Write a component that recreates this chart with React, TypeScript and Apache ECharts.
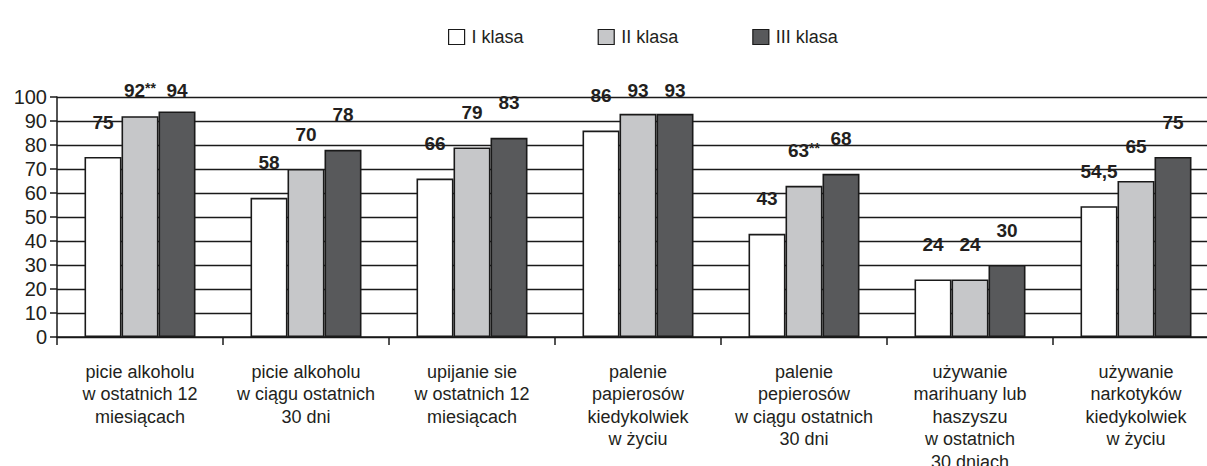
import React, { useEffect, useRef } from "react";
import * as echarts from "echarts";

const categories = [
  "picie alkoholu\nw ostatnich 12\nmiesiącach",
  "picie alkoholu\nw ciągu ostatnich\n30 dni",
  "upijanie sie\nw ostatnich 12\nmiesiącach",
  "palenie\npapierosów\nkiedykolwiek\nw życiu",
  "palenie\npepierosów\nw ciągu ostatnich\n30 dni",
  "używanie\nmarihuany lub\nhaszyszu\nw ostatnich\n30 dniach",
  "używanie\nnarkotyków\nkiedykolwiek\nw życiu",
];
const seriesNames = ["I klasa", "II klasa", "III klasa"];
const classI = [75, 58, 66, 86, 43, 24, 54.5];
const classII = [92, 70, 79, 93, 63, 24, 65];
const classIII = [94, 78, 83, 93, 68, 30, 75];
const marksI = ["", "", "", "", "", "", ""];
const marksII = ["**", "", "", "", "**", "", ""];
const marksIII = ["", "", "", "", "", "", ""];
const yTicks = [0, 10, 20, 30, 40, 50, 60, 70, 80, 90, 100];

const FONT = "'Liberation Sans', Arial, Helvetica, sans-serif";
const colors = ["#ffffff", "#c6c7c9", "#58595b"];

export default function App() {
  const ref = useRef<HTMLDivElement>(null);
  useEffect(() => {
    if (!ref.current) return;
    const chart = echarts.init(ref.current, undefined, { renderer: "svg" });
    const pxPerUnit = 240 / 100;
    const buildSeries = (name: string, vals: number[], marks: string[], color: string) => ({
      name,
      type: "bar",
      barWidth: 37,
      barGap: "0%",
      itemStyle: { color, borderColor: "#1a1a1a", borderWidth: 1.6 },
      data: vals.map((v, i) => ({
        value: v,
        label: {
          show: true,
          position: "top",
          distance: 25 - Math.max(0, (v - 88) * pxPerUnit),
          formatter: () =>
            `{v|${String(v).replace(".", ",")}}` + (marks[i] ? `{s|${marks[i]}}` : ""),
          rich: {
            v: { fontFamily: FONT, fontSize: 19, fontWeight: "bold", color: "#231f20", lineHeight: 20 },
            s: { fontFamily: FONT, fontSize: 14, fontWeight: "bold", color: "#231f20", lineHeight: 20, verticalAlign: "top", padding: [0, 0, 7, 0] },
          },
        },
      })),
    });
    chart.setOption({
      animation: false,
      backgroundColor: "#ffffff",
      legend: {
        left: 448,
        top: 28,
        padding: 0,
        itemWidth: 16,
        itemHeight: 15,
        itemGap: 74,
        icon: "rect",
        itemStyle: { borderColor: "#1a1a1a", borderWidth: 1.2 },
        textStyle: { fontFamily: FONT, fontSize: 18, color: "#231f20", padding: [0, 0, 0, 2] },
        data: seriesNames,
      },
      grid: { left: 57, top: 97, width: 1162, height: 240, containLabel: false, outerBoundsMode: "none" },
      xAxis: {
        type: "category",
        data: categories,
        axisLine: { lineStyle: { color: "#1a1a1a", width: 1.5 } },
        axisTick: { show: true, length: 8, lineStyle: { color: "#1a1a1a", width: 1.5 } },
        axisLabel: {
          interval: 0,
          margin: 23.5,
          fontFamily: FONT,
          fontSize: 18,
          lineHeight: 22.5,
          color: "#231f20",
          align: "center",
          verticalAlign: "top",
          hideOverlap: false,
        },
      },
      yAxis: {
        type: "value",
        min: yTicks[0],
        max: yTicks[yTicks.length - 1],
        interval: 10,
        axisLine: { show: true, lineStyle: { color: "#1a1a1a", width: 1.5 } },
        axisTick: { show: true, length: 7, lineStyle: { color: "#1a1a1a", width: 1.5 } },
        axisLabel: { margin: 10, fontFamily: FONT, fontSize: 20, color: "#231f20" },
        splitLine: { show: true, lineStyle: { color: "#1a1a1a", width: 1.3 } },
      },
      series: [
        buildSeries(seriesNames[0], classI, marksI, colors[0]),
        buildSeries(seriesNames[1], classII, marksII, colors[1]),
        buildSeries(seriesNames[2], classIII, marksIII, colors[2]),
      ],
    });
    return () => chart.dispose();
  }, []);
  return <div ref={ref} style={{ width: 1207, height: 466, position: "absolute", left: 0, top: 0 }} />;
}
